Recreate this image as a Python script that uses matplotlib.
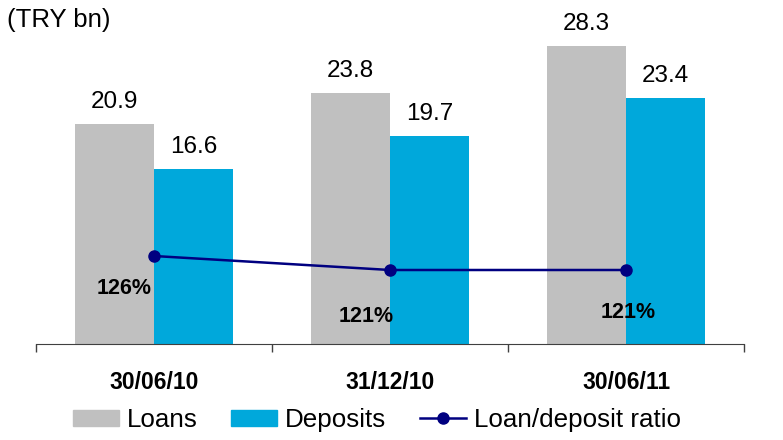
#
# Loans vs deposits chart
#

import numpy as np
import matplotlib.pyplot as plt
from matplotlib.lines import Line2D
from matplotlib.patches import Patch

plt.rcParams['font.family'] = ['Liberation Sans', 'DejaVu Sans']

# Data
dates = ["30/06/10", "31/12/10", "30/06/11"]
loans = [20.9, 23.8, 28.3]
deposits = [16.6, 19.7, 23.4]
ratio = [126, 121, 121]
ratio_labels = ["126%", "121%", "121%"]

grey = "#C0C0C0"
cyan = "#00A8DB"
navy = "#000080"

fig = plt.figure(figsize=(7.83, 4.40), dpi=100)
ax = fig.add_axes([36 / 783, (440 - 343.5) / 440, 708 / 783, 313.5 / 440])

x = np.arange(len(dates))
w = 1 / 3
b1 = ax.bar(x - w / 2, loans, w, color=grey)
b2 = ax.bar(x + w / 2, deposits, w, color=cyan)
ax.set_xlim(-0.5, 2.5)
ax.set_ylim(0, 313.5 / 10.51)

# value labels above the bars
for bars, vals in ((b1, loans), (b2, deposits)):
    for rect, v in zip(bars, vals):
        ax.annotate("%.1f" % v, (rect.get_x() + rect.get_width() / 2, v),
                    xytext=(0, 16), textcoords="offset pixels",
                    ha="center", va="baseline", fontsize=17.5)

# axes styling
for s in ("top", "right", "left"):
    ax.spines[s].set_visible(False)
ax.spines["bottom"].set_color("#404040")
ax.set_yticks([])
ax.set_xticks(x)
ax.set_xticklabels(dates, fontsize=16.5, fontweight="bold")
ax.tick_params(axis="x", which="major", length=0, pad=20)
ax.set_xticks([-0.5, 0.5, 1.5, 2.5], minor=True)
ax.tick_params(axis="x", which="minor", length=6, width=1, color="#404040")

# loan/deposit ratio on a second axis
ax2 = ax.twinx()
ax2.set_ylim(94.75, 94.75 + 313.5 / 2.8)
ax2.plot(x, ratio, color=navy, lw=1.8, marker="o", ms=8)
ax2.axis("off")
offsets = [(-30, -32), (-24, -46), (2, -43)]
for xi, r, lab, off in zip(x, ratio, ratio_labels, offsets):
    ax2.annotate(lab, (xi, r), xytext=off, textcoords="offset pixels",
                 ha="center", va="center", fontsize=15.5, fontweight="bold")

fig.text(7 / 783, 1 - 8 / 440, "(TRY bn)", fontsize=18.5, ha="left", va="top")

handles = [Patch(color=grey), Patch(color=cyan),
           Line2D([], [], color=navy, lw=1.8, marker="o", ms=8)]
fig.legend(handles, ["Loans", "Deposits", "Loan/deposit ratio"],
           loc="center", bbox_to_anchor=(377 / 783, 20 / 440), ncol=3,
           frameon=False, fontsize=18.7, handlelength=1.77, handleheight=0.6,
           handletextpad=0.3, columnspacing=1.3, borderpad=0, borderaxespad=0)

plt.savefig("out.png", dpi=100)
